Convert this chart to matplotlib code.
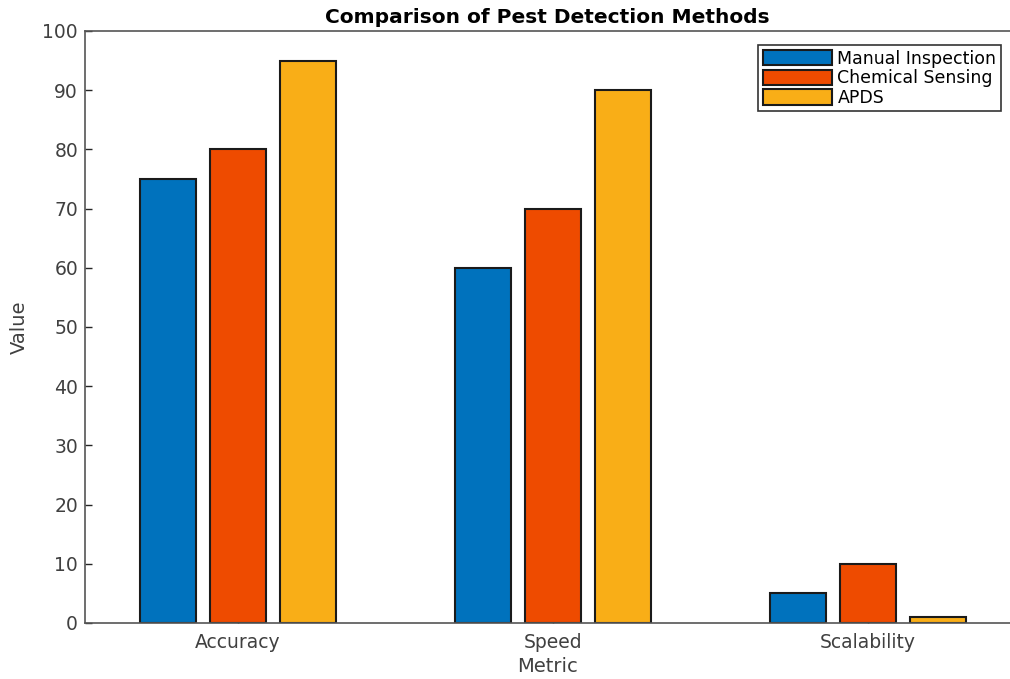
import matplotlib.pyplot as plt
import numpy as np

plt.rcParams['font.family'] = ['DejaVu Sans']

# Data
metrics = ["Accuracy", "Speed", "Scalability"]
methods = ["Manual Inspection", "Chemical Sensing", "APDS"]
manual = [75, 60, 5]
chemical = [80, 70, 10]
apds = [95, 90, 1]
colors = ["#0072BD", "#EE4B00", "#F9AE17"]

fig = plt.figure(figsize=(10.1, 6.79), dpi=100)
ax = fig.add_axes([85 / 1010, 1 - 623 / 679, 1 - 85 / 1010, (623 - 31) / 679])

x = np.arange(1, len(metrics) + 1)
offset = 0.222
width = 0.178
for i, (vals, name) in enumerate(zip([manual, chemical, apds], methods)):
    ax.bar(x + (i - 1) * offset, vals, width, color=colors[i], edgecolor="#1a1a1a",
           linewidth=1.5, label=name, zorder=2)

ax.set_xlim(0.514, 3.45)
ax.set_ylim(0, 100)
ax.set_yticks(range(0, 101, 10))
ax.set_xticks(x)
ax.set_xticklabels(metrics)
ax.tick_params(direction="in", length=5, width=1, colors="#262626", labelsize=13.5,
               labelcolor="#404040")
ax.tick_params(axis="y", pad=5)
ax.tick_params(axis="x", pad=7)
for s in ["left", "bottom", "top"]:
    ax.spines[s].set_color("#555555")
    ax.spines[s].set_linewidth(1.2)
ax.spines["right"].set_visible(False)

ax.set_title("Comparison of Pest Detection Methods", fontsize=14.5, fontweight="bold", pad=6)
ax.set_xlabel("Metric", fontsize=14, color="#404040", labelpad=4)
ax.set_ylabel("Value", fontsize=14, color="#404040", labelpad=10)

leg = ax.legend(loc="upper right", bbox_to_anchor=(0.990, 0.976), fontsize=12.5,
                fancybox=False, framealpha=1, edgecolor="#333333",
                handlelength=4.0, handleheight=1.0, labelspacing=0.1,
                handletextpad=0.3, borderpad=0.25, borderaxespad=0)
leg.get_frame().set_linewidth(1.2)

fig.savefig("out.png", dpi=100)
